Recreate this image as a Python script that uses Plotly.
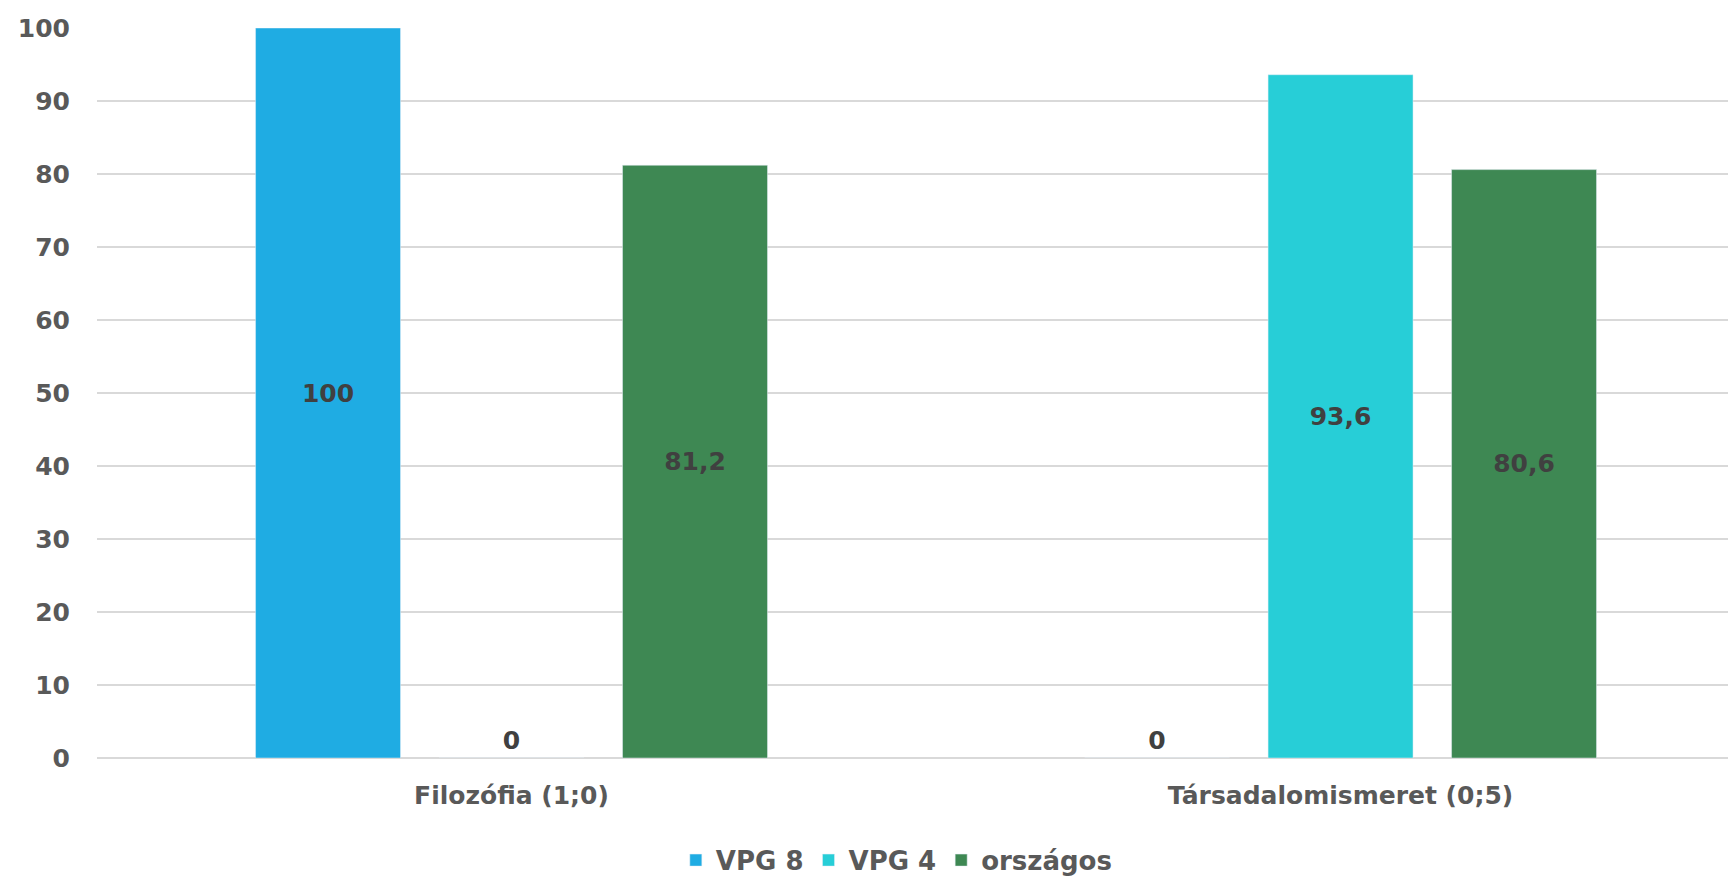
import plotly.graph_objects as go

categories = ["Filozófia (1;0)", "Társadalomismeret (0;5)"]
series_names = ["VPG 8", "VPG 4", "országos"]
vpg8 = [100, 0]
vpg4 = [0, 93.6]
orszagos = [81.2, 80.6]
colors = ["#1FACE3", "#27CED7", "#3E8853"]

FONT = "DejaVu Sans"
fig = go.Figure()
for name, vals, col in zip(series_names, [vpg8, vpg4, orszagos], colors):
    fig.add_trace(go.Bar(
        x=categories, y=vals, name=name, marker_color=col,
        text=[f"{v:g}".replace(".", ",") for v in vals],
        textposition=["outside" if v == 0 else "inside" for v in vals],
        insidetextanchor="middle",
        textfont=dict(family=FONT, size=25, color="#404040", weight=700),
        outsidetextfont=dict(family=FONT, size=25, color="#404040", weight=700),
        cliponaxis=False,
    ))

# page body adds an 8px offset, so the figure is sized to fill the rest of the window
fig.update_layout(
    width=1728, height=869,
    margin=dict(l=89, r=0, t=20, b=119, autoexpand=False),
    paper_bgcolor="white", plot_bgcolor="white",
    barmode="group", bargap=0.336, bargroupgap=0.21,
    separators=",.",
    font=dict(family=FONT, size=25, color="#595959", weight=700),
    legend=dict(orientation="h", x=0.488, xanchor="center", y=-0.14, yanchor="middle",
                font=dict(family=FONT, size=26, color="#595959", weight=700),
                itemwidth=30, tracegroupgap=0),
    xaxis=dict(range=[-0.5, 1.477], showgrid=False, showline=False, ticks="",
               automargin=False, ticklabelstandoff=20,
               tickfont=dict(family=FONT, size=25, color="#595959", weight=700)),
    yaxis=dict(range=[0, 100], dtick=10, showgrid=True, gridcolor="#D9D9D9", gridwidth=2,
               zeroline=True, zerolinecolor="#D9D9D9", zerolinewidth=2,
               automargin=False, ticklabelstandoff=26,
               tickfont=dict(family=FONT, size=25, color="#595959", weight=700)),
)

fig.write_html("out.html")
